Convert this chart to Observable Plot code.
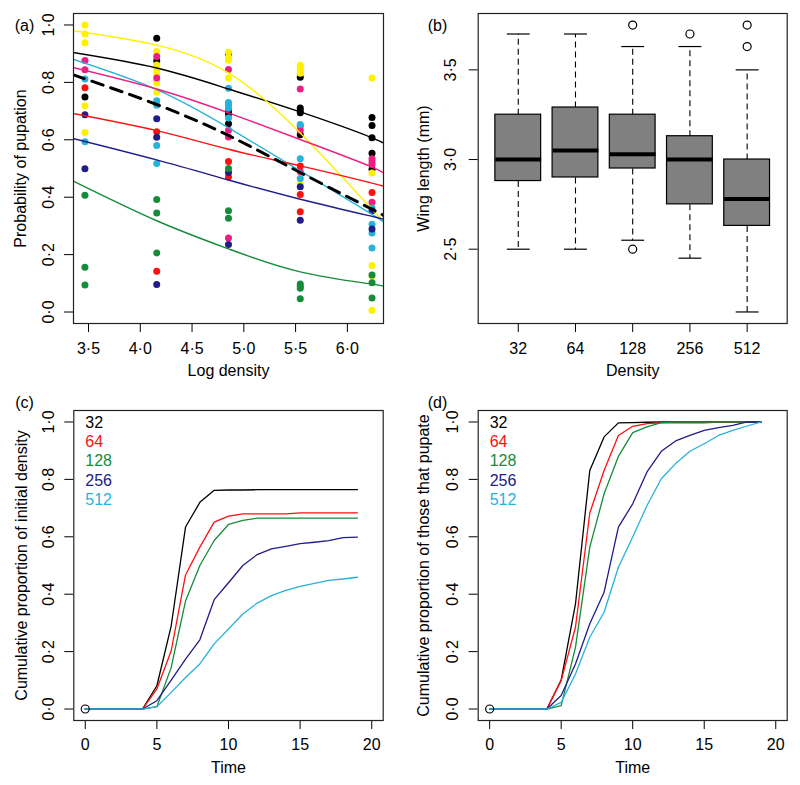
<!DOCTYPE html>
<html><head><meta charset="utf-8">
<script src="https://cdn.jsdelivr.net/npm/d3@7"></script>
<script src="https://cdn.jsdelivr.net/npm/@observablehq/plot@0.6"></script>
<style>
body{margin:0;background:#fff}
#wrap{position:relative;width:800px;height:785px;font-family:"Liberation Sans",Arial,sans-serif;overflow:hidden}
#wrap svg{position:absolute}
</style>
</head><body><div id="wrap"></div>
<script>
// ---------- DATA ----------
const densities = [32, 64, 128, 256, 512];

// Panel (a): observed proportions per population (colour), per density
const ptsBlack  = [[0.749],[0.954,0.875],[0.899,0.70,0.69,0.656],[0.818,0.711,0.702,0.694,0.618],[0.678,0.65,0.607,0.553,0.497]];
const ptsYellow = [[1.0,0.969,0.938,0.719,0.625],[0.908,0.861,0.845,0.829,0.798,0.766],[0.905,0.888,0.877,0.815],[0.86,0.853,0.844,0.832,0.447],[0.815,0.484,0.162,0.124,0.006]];
const ptsCyan   = [[0.812,0.593],[0.736,0.72,0.58,0.517],[0.78,0.73,0.72,0.71,0.676],[0.653,0.534,0.465],[0.362,0.306,0.275,0.223]];
const ptsPink   = [[0.876,0.844],[0.89,0.815],[0.845,0.633,0.61,0.258],[0.777,0.648,0.633,0.489],[0.534,0.523,0.514,0.382]];
const ptsRed    = [[0.781],[0.628,0.142],[0.524,0.47],[0.509,0.409,0.349],[0.416]];
const ptsNavy   = [[0.687,0.499],[0.673,0.609,0.096],[0.486,0.235],[0.436,0.32],[0.353,0.289]];
const ptsGreen  = [[0.407,0.156,0.094],[0.392,0.345,0.206],[0.5,0.353,0.327],[0.098,0.09,0.083,0.046],[0.129,0.102,0.049]];

// Panel (a): fitted curves read at these log densities
const curveX      = [3.348, 4.159, 4.852, 5.545, 6.238, 6.352];
const curveBlack  = [0.904, 0.85, 0.777, 0.697, 0.607, 0.582];
const curveYellow = [0.98, 0.93, 0.833, 0.624, 0.358, 0.318];
const curveCyan   = [0.881, 0.775, 0.642, 0.492, 0.34, 0.311];
const curvePink   = [0.852, 0.777, 0.694, 0.601, 0.505, 0.475];
const curveRed    = [0.692, 0.632, 0.567, 0.509, 0.449, 0.437];
const curveNavy   = [0.605, 0.53, 0.46, 0.393, 0.333, 0.323];
const curveGreen  = [0.457, 0.318, 0.22, 0.14, 0.097, 0.086];
const curveMean   = [0.827, 0.723, 0.615, 0.486, 0.358, 0.335];
const xTicksA = [3.5, 4.0, 4.5, 5.0, 5.5, 6.0];
const yTicks01 = [0, 0.2, 0.4, 0.6, 0.8, 1.0];

// Panel (b): wing length boxplots
const wingLow  = [2.50, 2.50, 2.55, 2.45, 2.15];
const wingQ1   = [2.88, 2.90, 2.95, 2.75, 2.63];
const wingMed  = [3.00, 3.05, 3.03, 3.00, 2.78];
const wingQ3   = [3.25, 3.29, 3.25, 3.13, 3.00];
const wingHigh = [3.70, 3.70, 3.63, 3.63, 3.50];
const wingOut  = [[], [], [3.75, 2.50], [3.70], [3.75, 3.63]];
const yTicksB = [2.5, 3.0, 3.5];

// Panels (c), (d): cumulative proportions over time
const time = [0,1,2,3,4,5,6,7,8,9,10,11,12,13,14,15,16,17,18,19];
const cum32  = [0,0,0,0,0,0.081,0.29,0.634,0.72,0.762,0.763,0.763,0.764,0.764,0.764,0.764,0.764,0.764,0.764,0.764];
const cum64  = [0,0,0,0,0,0.07,0.203,0.467,0.564,0.651,0.672,0.68,0.68,0.68,0.68,0.683,0.683,0.683,0.683,0.683];
const cum128 = [0,0,0,0,0,0.008,0.145,0.376,0.5,0.587,0.643,0.657,0.665,0.665,0.665,0.665,0.665,0.665,0.665,0.665];
const cum256 = [0,0,0,0,0,0.029,0.101,0.174,0.241,0.381,0.44,0.5,0.538,0.558,0.567,0.576,0.581,0.587,0.597,0.599];
const cum512 = [0,0,0,0,0,0.008,0.058,0.11,0.157,0.227,0.279,0.331,0.369,0.395,0.413,0.427,0.438,0.448,0.453,0.459];
const pup32  = [0,0,0,0,0,0.101,0.366,0.831,0.948,0.997,0.998,0.999,1,1,1,1,1,1,1,1];
const pup64  = [0,0,0,0,0,0.099,0.285,0.683,0.831,0.953,0.985,0.994,0.997,0.997,0.997,0.997,1,1,1,1];
const pup128 = [0,0,0,0,0,0.012,0.215,0.564,0.75,0.88,0.963,0.983,0.998,1,1,1,1,1,1,1];
const pup256 = [0,0,0,0,0,0.047,0.157,0.297,0.407,0.634,0.715,0.826,0.898,0.934,0.953,0.971,0.98,0.988,1,1];
const pup512 = [0,0,0,0,0,0.023,0.122,0.25,0.337,0.494,0.599,0.709,0.802,0.855,0.898,0.924,0.953,0.971,0.986,1];
const xTicksT = [0, 5, 10, 15, 20];

// ---------- STYLE ----------
const C = {black:"#000000", yellow:"#FFF000", cyan:"#27B2DA", pink:"#EC1E82", red:"#FF1010", navy:"#201C88", green:"#168C3A"};
const densColors = [C.black, C.red, C.green, C.navy, C.cyan];
const FONT = '"Liberation Sans", Arial, sans-serif';
const fmt = d => d3.format(".1f")(d).replace(".", "·");
const wrap = document.getElementById("wrap");

function place(svg, left, top) { svg.style.left = left + "px"; svg.style.top = top + "px"; wrap.appendChild(svg); }
const base = {style: {fontFamily: FONT, fontSize: "16px", background: "transparent", color: "black", overflow: "visible"}};
const T = {fontSize: 16, fill: "black", textAnchor: "middle", lineAnchor: "middle"};

function axesMarks({xt, yt, xfmt, yfmt, xdy, ydx, xtitle, ytitle, xtdy, ytdx, tag, tagdx, tagdy}) {
  return [
    Plot.axisX({ticks: xt, tickSize: 9, tickFormat: () => "", label: null, strokeWidth: 1}),
    Plot.axisY({ticks: yt, tickSize: 9, tickFormat: () => "", label: null, strokeWidth: 1}),
    Plot.text(xt, {...T, x: d => d, frameAnchor: "bottom", dy: xdy, text: xfmt}),
    Plot.text(yt, {...T, y: d => d, frameAnchor: "left", dx: ydx, rotate: -90, text: yfmt}),
    Plot.text([xtitle], {...T, frameAnchor: "bottom", dy: xtdy, text: d => d}),
    Plot.text([ytitle], {...T, frameAnchor: "left", dx: ytdx, rotate: -90, text: d => d}),
    Plot.text([tag], {...T, frameAnchor: "top-left", dx: tagdx, dy: tagdy, text: d => d}),
    Plot.frame({stroke: "#222", strokeWidth: 1.2})
  ];
}

// ---------- PANEL (a) ----------
const popSets = [["black", ptsBlack], ["yellow", ptsYellow], ["pink", ptsPink], ["cyan", ptsCyan], ["red", ptsRed], ["navy", ptsNavy], ["green", ptsGreen]];
const dotsA = [];
popSets.forEach(([col, arr]) => arr.forEach((vals, i) => vals.forEach(v => dotsA.push({x: Math.log(densities[i]), y: v, col}))));
const curveSets = [["black", curveBlack], ["yellow", curveYellow], ["cyan", curveCyan], ["pink", curvePink], ["red", curveRed], ["navy", curveNavy], ["green", curveGreen]];
const curvesA = [];
curveSets.forEach(([col, arr]) => arr.forEach((v, i) => curvesA.push({x: curveX[i], y: v, col})));
const meanA = curveMean.map((v, i) => ({x: curveX[i], y: v}));

const svgA = Plot.plot({
  ...base, width: 400, height: 390, marginLeft: 73, marginRight: 17, marginTop: 13, marginBottom: 67,
  x: {domain: [3.3551, 6.3491]}, y: {domain: [-0.04, 1.04]},
  marks: [
    Plot.dot(dotsA, {x: "x", y: "y", r: 3.5, fill: d => C[d.col], stroke: "none"}),
    Plot.line(curvesA, {x: "x", y: "y", z: "col", stroke: d => C[d.col], strokeWidth: 1.4, curve: "natural", clip: true}),
    Plot.line(meanA, {x: "x", y: "y", stroke: "black", strokeWidth: 3, strokeDasharray: "12,8", curve: "natural", clip: true}),
    ...axesMarks({xt: xTicksA, yt: yTicks01, xfmt: fmt, yfmt: fmt, xdy: 25, ydx: -25,
      xtitle: "Log density", ytitle: "Probability of pupation", xtdy: 47, ytdx: -53, tag: "(a)", tagdx: -49, tagdy: 12})
  ]
});
place(svgA, 0, 0);

// ---------- PANEL (b) ----------
const boxes = densities.map((d, i) => ({pos: i + 1, lo: wingLow[i], q1: wingQ1[i], med: wingMed[i], q3: wingQ3[i], hi: wingHigh[i]}));
const outs = [];
wingOut.forEach((arr, i) => arr.forEach(v => outs.push({pos: i + 1, v})));
const posB = densities.map((d, i) => i + 1);
const svgB = Plot.plot({
  ...base, width: 400, height: 390, marginLeft: 77.7, marginRight: 13.3, marginTop: 13, marginBottom: 67,
  x: {domain: [0.3, 5.7]}, y: {domain: [2.0857, 3.8143]},
  marks: [
    Plot.link(boxes, {x1: "pos", x2: "pos", y1: "q3", y2: "hi", stroke: "black", strokeWidth: 1.1, strokeDasharray: "6,4"}),
    Plot.link(boxes, {x1: "pos", x2: "pos", y1: "q1", y2: "lo", stroke: "black", strokeWidth: 1.1, strokeDasharray: "6,4"}),
    Plot.link(boxes, {x1: d => d.pos - 0.2, x2: d => d.pos + 0.2, y1: "hi", y2: "hi", stroke: "black", strokeWidth: 1.2}),
    Plot.link(boxes, {x1: d => d.pos - 0.2, x2: d => d.pos + 0.2, y1: "lo", y2: "lo", stroke: "black", strokeWidth: 1.2}),
    Plot.rect(boxes, {x1: d => d.pos - 0.4, x2: d => d.pos + 0.4, y1: "q1", y2: "q3", fill: "#808080", stroke: "black", strokeWidth: 1.2}),
    Plot.link(boxes, {x1: d => d.pos - 0.4, x2: d => d.pos + 0.4, y1: "med", y2: "med", stroke: "black", strokeWidth: 4}),
    Plot.dot(outs, {x: "pos", y: "v", r: 4, stroke: "black", strokeWidth: 1.2, fill: "none"}),
    ...axesMarks({xt: posB, yt: yTicksB, xfmt: d => String(densities[d - 1]), yfmt: fmt, xdy: 25, ydx: -27.7,
      xtitle: "Density", ytitle: "Wing length (mm)", xtdy: 47, ytdx: -54.7, tag: "(b)", tagdx: -40.7, tagdy: 12})
  ]
});
place(svgB, 400, 0);

// ---------- PANELS (c), (d) ----------
function timePanel(series, ytitle, tag, left, ml, mr, ydx, ytdx, tagdx) {
  const rows = [];
  series.forEach((arr, si) => arr.forEach((v, i) => rows.push({t: time[i], v, s: si})));
  const legend = densities.map((d, i) => Plot.text([String(d)], {frameAnchor: "top-left", dx: 11.5, dy: 12 + i * 19.3, text: t => t, textAnchor: "start", lineAnchor: "middle", fill: densColors[i], fontSize: 16}));
  const svg = Plot.plot({
    ...base, width: 400, height: 395, marginLeft: ml, marginRight: mr, marginTop: 20, marginBottom: 65,
    x: {domain: [-0.8, 20.8]}, y: {domain: [-0.04, 1.04]},
    marks: [
      Plot.line(rows, {x: "t", y: "v", z: "s", stroke: d => densColors[d.s], strokeWidth: 1.3}),
      Plot.dot([{t: time[0], v: series[0][0]}], {x: "t", y: "v", r: 4, stroke: "black", strokeWidth: 1.2, fill: "none"}),
      ...legend,
      ...axesMarks({xt: xTicksT, yt: yTicks01, xfmt: d => String(d), yfmt: fmt, xdy: 24.5, ydx: ydx,
        xtitle: "Time", ytitle: ytitle, xtdy: 47.7, ytdx: ytdx, tag: tag, tagdx: tagdx, tagdy: -8})
    ]
  });
  place(svg, left, 390);
}
timePanel([cum32, cum64, cum128, cum256, cum512], "Cumulative proportion of initial density", "(c)", 0, 73.3, 17.3, -25.3, -52.3, -49.3);
timePanel([pup32, pup64, pup128, pup256, pup512], "Cumulative proportion of those that pupate", "(d)", 400, 77.7, 13.3, -25.7, -54.7, -40.7);
</script>
</body></html>
